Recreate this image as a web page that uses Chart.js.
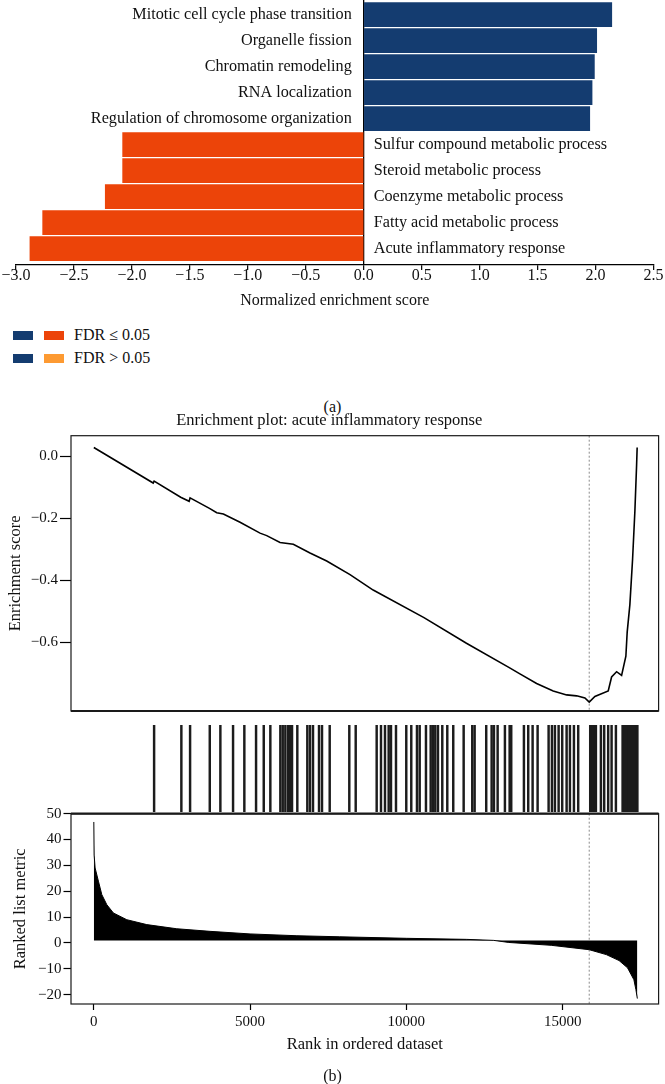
<!DOCTYPE html>
<html><head><meta charset="utf-8">
<script src="https://cdn.jsdelivr.net/npm/chart.js@4.4.1/dist/chart.umd.min.js"></script>
<style>
html,body{margin:0;padding:0;background:#fff;}
#wrap{position:relative;width:665px;height:1084px;overflow:hidden;font-family:"Liberation Serif",serif;color:#111;}
canvas{position:absolute;left:0;}
.txt{position:absolute;white-space:nowrap;font-size:16px;line-height:16px;}
.sw{position:absolute;width:20px;height:9px;}
</style></head><body>
<div id="wrap">
  <canvas id="cA" style="top:0px;width:665px;height:320px" width="665" height="320"></canvas>
  <div class="sw" style="left:13px;top:331px;background:#143c70"></div>
  <div class="sw" style="left:44px;top:331px;background:#ec4409"></div>
  <div class="txt" style="left:74px;top:327px">FDR ≤ 0.05</div>
  <div class="sw" style="left:13px;top:354px;background:#143c70"></div>
  <div class="sw" style="left:44px;top:354px;background:#fd9a32"></div>
  <div class="txt" style="left:74px;top:350px">FDR &gt; 0.05</div>
  <div class="txt" style="left:0;width:665px;text-align:center;top:399px">(a)</div>
  <canvas id="cB" style="top:407px;width:665px;height:315px" width="665" height="315"></canvas>
  <canvas id="cC" style="top:722px;width:665px;height:91px" width="665" height="91"></canvas>
  <canvas id="cD" style="top:796px;width:665px;height:288px" width="665" height="288"></canvas>
  <div class="txt" style="left:0;width:665px;text-align:center;top:1068px">(b)</div>
</div>
<script>
// ---------- data ----------
const categories = [
  "Mitotic cell cycle phase transition",
  "Organelle fission",
  "Chromatin remodeling",
  "RNA localization",
  "Regulation of chromosome organization",
  "Sulfur compound metabolic process",
  "Steroid metabolic process",
  "Coenzyme metabolic process",
  "Fatty acid metabolic process",
  "Acute inflammatory response"
];
const nesValues = [2.14, 2.01, 1.99, 1.97, 1.95, -2.08, -2.08, -2.23, -2.77, -2.88];
const nesTicks = [-3.0, -2.5, -2.0, -1.5, -1.0, -0.5, 0.0, 0.5, 1.0, 1.5, 2.0, 2.5];

const esRanks  = [0, 1900, 1929, 2780, 3050, 3080, 3700, 3933, 4145, 4679, 5318, 5532, 5958, 6383, 6917, 7451, 8197, 8938, 10563, 11922, 13278, 13633, 14167, 14698, 15127, 15447, 15712, 15850, 16032, 16458, 16566, 16726, 16886, 17023, 17065, 17151, 17237, 17311, 17365, 17384];
const esScores = [0.029, -0.086, -0.080, -0.132, -0.145, -0.134, -0.168, -0.182, -0.186, -0.213, -0.248, -0.256, -0.278, -0.284, -0.312, -0.338, -0.382, -0.432, -0.521, -0.604, -0.682, -0.703, -0.734, -0.758, -0.771, -0.774, -0.781, -0.794, -0.776, -0.758, -0.713, -0.696, -0.708, -0.646, -0.568, -0.479, -0.333, -0.177, -0.031, 0.029];
const esTicks = [0.0, -0.2, -0.4, -0.6];

const hitRanks = [1929, 2801, 3080, 3710, 4049, 4455, 4816, 5191, 5437, 5648, 5968, 6044, 6128, 6214, 6278, 6342, 6511, 6831, 6917, 7013, 7205, 7301, 7547, 8174, 8379, 9050, 9188, 9316, 9434, 9508, 9668, 9997, 10157, 10339, 10426, 10627, 10778, 10851, 10925, 11011, 11149, 11309, 11500, 11833, 12108, 12184, 12555, 12728, 12802, 12920, 13153, 13304, 13355, 13761, 13899, 14039, 14199, 14551, 14657, 14753, 14871, 14986, 15127, 15233, 15361, 15498, 15882, 15920, 15968, 16016, 16064, 16224, 16329, 16457, 16566, 16704, 16918, 16959, 16990, 17023, 17055, 17087, 17120, 17151, 17183, 17215, 17247, 17279, 17311, 17343, 17370, 17391];

const metricRanks  = [0, 10, 42, 147, 256, 416, 627, 1055, 1695, 2654, 3719, 5000, 6498, 7854, 10000, 11922, 12800, 13278, 14634, 15850, 16397, 16805, 17075, 17279, 17343, 17390];
const metricValues = [46.8, 34, 29, 23.9, 18.7, 14.8, 11.6, 9.0, 7.1, 5.5, 4.5, 3.5, 2.8, 2.4, 1.8, 1.4, 1.0, 0.2, -0.9, -2.6, -4.5, -6.8, -9.6, -14.2, -18, -21.5];
const metricTicks = [50, 40, 30, 20, 10, 0, -10, -20];
const rankTicks = [0, 5000, 10000, 15000];
const leadingEdgeRank = 15850;

// ---------- style ----------
const FONT = '"Liberation Serif", serif';
const BLUE = '#143c70', ORANGE = '#ec4409', INK = '#111';
const fmt1 = v => v === 0 ? '0.0' : (v < 0 ? '\u2212' + Math.abs(v).toFixed(1) : v.toFixed(1));
const fmt0 = v => v < 0 ? '\u2212' + Math.abs(v) : String(v);
const fixTicks = arr => s => { s.ticks = arr.map(v => ({value: v})); };

const barLabelPlugin = {
  id: 'barLabels',
  afterDatasetsDraw(chart) {
    const {ctx, scales: {x, y}} = chart;
    const x0 = x.getPixelForValue(0);
    ctx.save();
    ctx.font = '16.2px ' + FONT;
    ctx.fillStyle = INK;
    ctx.textBaseline = 'middle';
    categories.forEach((c, i) => {
      const py = y.getPixelForValue(i);
      if (nesValues[i] > 0) { ctx.textAlign = 'right'; ctx.fillText(c, x0 - 12, py); }
      else { ctx.textAlign = 'left'; ctx.fillText(c, x0 + 10, py); }
    });
    ctx.restore();
  }
};
const framePlugin = {
  id: 'frame',
  afterDatasetsDraw(chart, args, opts) {
    const {ctx, chartArea: a} = chart;
    ctx.save();
    ctx.strokeStyle = '#1a1a1a';
    ctx.lineWidth = 1.2;
    ctx.strokeRect(a.left, a.top, a.right - a.left, a.bottom - a.top);
    ctx.lineWidth = 2.2;
    ctx.beginPath();
    if (opts.thickBottom) { ctx.moveTo(a.left, a.bottom); ctx.lineTo(a.right, a.bottom); }
    if (opts.thickTop) { ctx.moveTo(a.left, a.top); ctx.lineTo(a.right, a.top); }
    ctx.stroke();
    ctx.restore();
  }
};
const vlinePlugin = {
  id: 'vline',
  beforeDatasetsDraw(chart) {
    const {ctx, chartArea: a, scales: {x}} = chart;
    const px = x.getPixelForValue(leadingEdgeRank);
    ctx.save();
    ctx.strokeStyle = '#8a8a8a';
    ctx.lineWidth = 1;
    ctx.setLineDash([2, 2]);
    ctx.beginPath(); ctx.moveTo(px, a.top); ctx.lineTo(px, a.bottom); ctx.stroke();
    ctx.restore();
  }
};
const base = {responsive: false, animation: false, events: []};
const noLegend = {legend: {display: false}, tooltip: {enabled: false}};

// ---------- (a) NES bar chart ----------
new Chart(document.getElementById('cA'), {
  type: 'bar',
  data: {datasets: [{
    data: categories.map((c, i) => ({x: nesValues[i], y: i})),
    backgroundColor: ctx => (ctx.raw && ctx.raw.x > 0) ? BLUE : ORANGE,
    barThickness: 24, borderWidth: 0
  }]},
  options: Object.assign({}, base, {
    indexAxis: 'y',
    layout: {padding: {left: 14, right: 9, top: 0, bottom: 0}},
    plugins: noLegend,
    scales: {
      x: {
        type: 'linear', min: -3, max: 2.5,
        afterBuildTicks: fixTicks(nesTicks),
        afterFit: s => { s.height = 55; },
        grid: {drawOnChartArea: true, color: c => (c.tick && c.tick.value === 0) ? '#000' : 'rgba(0,0,0,0)',
               lineWidth: 1.3, drawTicks: true, tickLength: 5, tickColor: '#000', tickWidth: 1.2},
        border: {display: true, color: '#000', width: 1.3},
        ticks: {font: {family: FONT, size: 16, lineHeight: 0.55}, color: INK, padding: 1.5, maxRotation: 0, autoSkip: false, callback: v => fmt1(v)},
        title: {display: true, text: 'Normalized enrichment score', color: INK, font: {family: FONT, size: 16}, padding: {top: 0, bottom: 9.4}}
      },
      y: {type: 'linear', reverse: true, min: -0.565, max: 9.627, offset: false, grid: {offset: false}, display: false}
    }
  }),
  plugins: [barLabelPlugin]
});

// ---------- (b) running enrichment score ----------
new Chart(document.getElementById('cB'), {
  type: 'line',
  data: {datasets: [{
    data: esRanks.map((r, i) => ({x: r, y: esScores[i]})),
    borderColor: '#000', borderWidth: 1.6, pointRadius: 0, tension: 0, fill: false
  }]},
  options: Object.assign({}, base, {
    layout: {padding: {left: 0, right: 6.4, top: 0, bottom: 2}},
    plugins: Object.assign({}, noLegend, {
      title: {display: true, text: 'Enrichment plot: acute inflammatory response', color: INK,
              font: {family: FONT, size: 16.5, weight: 'normal'}, padding: {top: 4, bottom: 4.9}},
      frame: {thickBottom: true}
    }),
    scales: {
      x: {type: 'linear', min: -730, max: 18070, display: false},
      y: {
        type: 'linear', min: -0.823, max: 0.067,
        afterFit: s => { s.width = 71; },
        afterBuildTicks: fixTicks(esTicks),
        grid: {drawOnChartArea: false, drawTicks: true, tickLength: 11, tickColor: '#000', tickWidth: 1.2},
        border: {display: false},
        ticks: {font: {family: FONT, size: 15}, color: INK, padding: 2, callback: v => fmt1(v)},
        title: {display: true, text: 'Enrichment score', color: INK, font: {family: FONT, size: 16.5}, padding: {top: 6.1, bottom: 0}}
      }
    }
  }),
  plugins: [framePlugin, vlinePlugin]
});

// ---------- (b) hit barcode ----------
new Chart(document.getElementById('cC'), {
  type: 'bar',
  data: {datasets: [{
    data: hitRanks.map(r => ({x: r, y: 1})),
    backgroundColor: '#1c1c1c', barThickness: 1.8, borderWidth: 0
  }]},
  options: Object.assign({}, base, {
    layout: {padding: {left: 71, right: 6.4, top: 3, bottom: 1}},
    plugins: noLegend,
    scales: {
      x: {type: 'linear', min: -730, max: 18070, offset: false, grid: {offset: false}, display: false},
      y: {min: 0, max: 1, display: false}
    }
  })
});

// ---------- (b) ranked list metric ----------
new Chart(document.getElementById('cD'), {
  type: 'line',
  data: {datasets: [{
    data: metricRanks.map((r, i) => ({x: r, y: metricValues[i]})),
    borderColor: '#000', borderWidth: 1, backgroundColor: '#000',
    pointRadius: 0, tension: 0, fill: {value: 1}
  }]},
  options: Object.assign({}, base, {
    layout: {padding: {left: 0, right: 6.4, top: 17.7, bottom: 0}},
    plugins: Object.assign({}, noLegend, {frame: {thickTop: true}}),
    scales: {
      x: {
        type: 'linear', min: -730, max: 18070,
        afterBuildTicks: fixTicks(rankTicks),
        afterFit: s => { s.height = 80; },
        grid: {drawOnChartArea: false, drawTicks: true, tickLength: 6, tickColor: '#000', tickWidth: 1.2},
        border: {display: false},
        ticks: {font: {family: FONT, size: 15}, color: INK, padding: 3, maxRotation: 0, autoSkip: false, callback: v => String(v)},
        title: {display: true, text: 'Rank in ordered dataset', color: INK, font: {family: FONT, size: 16.5}, padding: {top: 0, bottom: 29.1}}
      },
      y: {
        type: 'linear', min: -23.6, max: 50,
        afterFit: s => { s.width = 71; },
        afterBuildTicks: fixTicks(metricTicks),
        grid: {drawOnChartArea: false, drawTicks: true, tickLength: 7.5, tickColor: '#000', tickWidth: 1.2},
        border: {display: false},
        ticks: {font: {family: FONT, size: 15}, color: INK, padding: 2, callback: v => fmt0(v)},
        title: {display: true, text: 'Ranked list metric', color: INK, font: {family: FONT, size: 16.5}, padding: {top: 11.1, bottom: 0}}
      }
    }
  }),
  plugins: [framePlugin, vlinePlugin]
});
</script>
</body></html>
